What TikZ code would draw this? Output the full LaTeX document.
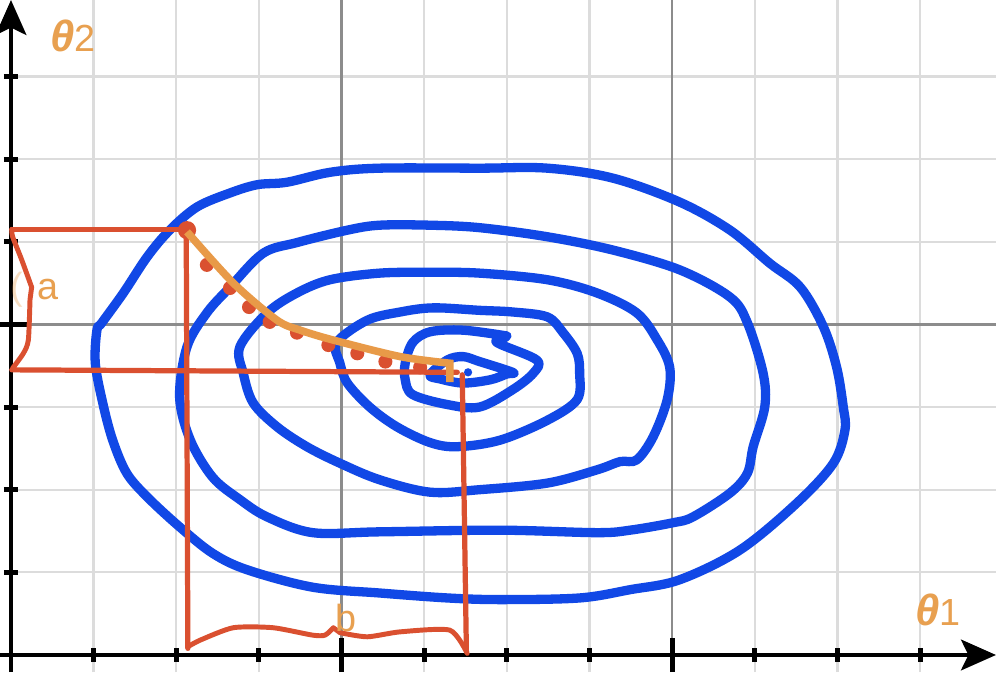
\documentclass[tikz,border=0pt]{standalone}
\usepackage{fontspec}
\setsansfont{Liberation Sans}
\usetikzlibrary{arrows.meta}

\begin{document}
\begin{tikzpicture}[font=\sffamily]
  % Sketched level sets of the cost over the two parameters, with the
  % descent steps and the two side lengths marked by braces.
  \definecolor{level}{HTML}{1148E6}
  \definecolor{stepred}{HTML}{DA5030}
  \definecolor{descent}{HTML}{E89A48}
  \definecolor{labelorange}{HTML}{E8A050}
  \definecolor{gridlight}{HTML}{DCDCDC}
  \definecolor{gridmid}{HTML}{8C8C8C}
  \fill[white] (-0.133,-0.206) rectangle (11.918,7.925);
  \useasboundingbox (-0.133,-0.206) rectangle (11.918,7.925);

  \tikzset{gridline/.style={gridlight,line width=0.8pt},
            gridmajor/.style={gridmid,line width=0.8pt},
            axis/.style={black,line width=1.7pt},
            contour/.style={level,line width=3.2pt,line cap=round,line join=round},
            guide/.style={stepred,line width=1.8pt,line cap=round},
            brace/.style={stepred,line width=1.7pt,line join=round,line cap=round},
            path/.style={descent,line width=2.6pt,line join=miter},
            varlabel/.style={text=labelorange,font=\sffamily\fontsize{13}{15}\selectfont,inner sep=1pt}}

  % grid
  \foreach \u in {1,2,3,5,6,7,9,10,11} \draw[gridline] (\u,-0.206) -- (\u,7.925);
  \foreach \v in {1,2,3,5,6,7} \draw[gridline] (0,\v) -- (11.918,\v);
  \foreach \u in {4,8} \draw[gridmajor] (\u,-0.206) -- (\u,7.925);
  \draw[gridmajor] (0,4) -- (11.918,4);

  % axes and ticks
  \draw[axis,-{Stealth[length=12pt,width=10.5pt,inset=2.5pt]}] (-0.133,0) -- (11.918,0);
  \draw[axis,-{Stealth[length=12pt,width=10.5pt,inset=2.5pt]}] (0,-0.206) -- (0,7.925);
  \foreach \u in {1,...,11} \draw[axis] (\u,-0.085) -- (\u,0.085);
  \foreach \u in {4,8} \draw[axis] (\u,-0.206) -- (\u,0.2);
  \foreach \v in {1,...,7} \draw[axis] (-0.085,\v) -- (0.085,\v);
  \draw[axis] (-0.133,4) -- (0.2,4);

  % level sets, outermost first
  \draw[contour] plot[smooth cycle,tension=0.55] coordinates {
    (1.04,3.93) (1.02,3.53) (1.11,3.05) (1.23,2.60) (1.40,2.20) (1.65,1.91)
    (2.04,1.55) (2.44,1.23) (2.86,1.03) (3.65,0.82) (4.46,0.75) (5.28,0.69)
    (5.92,0.67) (6.88,0.69) (7.49,0.79) (8.09,0.91) (8.82,1.27) (9.51,1.84)
    (9.95,2.32) (10.09,2.72) (10.07,3.00) (9.99,3.48) (9.83,3.97) (9.55,4.45)
    (9.18,4.74) (8.70,5.14) (8.09,5.48) (7.28,5.77) (6.49,5.89) (5.67,5.89)
    (4.46,5.89) (3.86,5.84) (3.34,5.72) (2.98,5.69) (2.65,5.59) (2.25,5.42)
    (1.92,5.14) (1.65,4.82) (1.36,4.38) (1.10,4.02)};
  \draw[contour] plot[smooth cycle,tension=0.55] coordinates {
    (2.13,3.73) (2.04,3.12) (2.17,2.60) (2.44,2.15) (2.77,1.88) (3.10,1.67)
    (3.65,1.48) (4.46,1.49) (5.92,1.51) (7.09,1.48) (7.49,1.51) (8.01,1.60)
    (8.25,1.67) (8.70,1.96) (8.91,2.20) (8.98,2.52) (9.12,3.00) (9.10,3.41)
    (8.91,4.02) (8.70,4.33) (8.09,4.66) (7.28,4.90) (6.49,5.06) (5.67,5.17)
    (5.07,5.20) (4.46,5.20) (4.07,5.14) (3.46,4.99) (3.05,4.86) (2.65,4.45)
    (2.37,4.14)};
  \draw[contour] plot[smooth cycle,tension=0.55] coordinates {
    (2.77,3.73) (2.81,3.41) (2.93,3.05) (3.22,2.76) (3.58,2.52) (3.98,2.32)
    (4.46,2.12) (5.07,1.97) (5.67,2.00) (6.49,2.08) (7.09,2.24) (7.37,2.34)
    (7.57,2.36) (7.77,2.64) (7.94,3.09) (7.97,3.48) (7.82,3.81) (7.57,4.14)
    (7.09,4.38) (6.49,4.54) (5.67,4.62) (5.07,4.63) (4.46,4.62) (3.86,4.54)
    (3.46,4.38) (3.10,4.14)};
  \draw[contour] plot[smooth cycle,tension=0.55] coordinates {
    (3.94,3.78) (3.98,3.53) (4.07,3.29) (4.34,3.00) (4.67,2.76) (5.07,2.57)
    (5.40,2.52) (5.92,2.60) (6.49,2.84) (6.85,3.09) (6.88,3.41) (6.85,3.65)
    (6.68,3.90) (6.49,4.09) (6.07,4.15) (5.67,4.17) (5.11,4.20) (4.71,4.15)
    (4.31,4.05)};
  \draw[contour] plot[smooth,tension=0.55] coordinates {
    (6.00,3.86) (5.47,3.93) (5.07,3.91) (4.86,3.78) (4.77,3.53) (4.77,3.33)
    (4.86,3.15) (5.28,3.03) (5.67,3.00) (6.07,3.21) (6.32,3.41) (6.36,3.57)
    (5.88,3.78) (5.98,3.84)};
  \draw[contour] plot[smooth cycle,tension=0.55] coordinates {
    (6.07,3.42) (5.67,3.55) (5.47,3.61) (5.28,3.57) (5.07,3.39) (5.19,3.34)
    (5.47,3.29) (5.80,3.33) (6.00,3.40)};
  \fill[level] (5.53,3.42) circle (0.05);

  % projections onto the axes
  \draw[guide] (0.01,5.15) -- (2.12,5.15);
  \draw[guide] (2.12,5.15) -- (2.14,0.08);
  \draw[guide] (0.01,3.45) -- (5.40,3.42);
  \draw[guide] (5.46,3.39) -- (5.51,0.04);

  % hand-drawn braces
  \draw[brace] plot[smooth,tension=0.4] coordinates {
    (0.01,5.15) (0.02,5.06) (0.13,4.78) (0.25,4.45)}
    -- plot[smooth,tension=0.4] coordinates {
    (0.23,4.30) (0.21,3.81) (0.15,3.65) (0.02,3.47)};
  \draw[brace] plot[smooth,tension=0.4] coordinates {
    (2.14,0.10) (2.29,0.18) (2.69,0.33) (3.17,0.33) (3.65,0.24) (3.80,0.24) (3.90,0.33)}
    -- plot[smooth,tension=0.4] coordinates {
    (3.98,0.27) (4.31,0.22) (4.71,0.28) (5.31,0.30) (5.52,0.02)};

  % descent steps
  \fill[stepred] (2.13,5.14) circle (0.11);
  \foreach \p in {(2.37,4.72),(2.65,4.44),(2.88,4.21),(3.13,4.03),(3.46,3.90),
                  (3.84,3.75),(4.19,3.65),(4.53,3.55),(4.95,3.48)}
    \fill[stepred] \p circle (0.085);
  \draw[path] plot[smooth,tension=0.5] coordinates {
    (2.13,5.12) (2.69,4.50) (3.22,4.05) (3.50,3.93) (3.90,3.81) (4.71,3.61) (5.31,3.53)}
    -- (5.31,3.30);

  \node[varlabel] (theta2) at (0.75,7.49) {{\bfseries\itshape\fontsize{15}{15}\selectfont θ}2};
  \node[varlabel] (theta1) at (11.22,0.54) {{\bfseries\itshape\fontsize{15}{15}\selectfont θ}1};
  \node[varlabel] (sidea) at (0.45,4.42) {a};
  \node[varlabel] (sideb) at (4.05,0.45) {b};
  \node[varlabel,opacity=0.35] (mark) at (0.07,4.42) {(};
\end{tikzpicture}
\end{document}
